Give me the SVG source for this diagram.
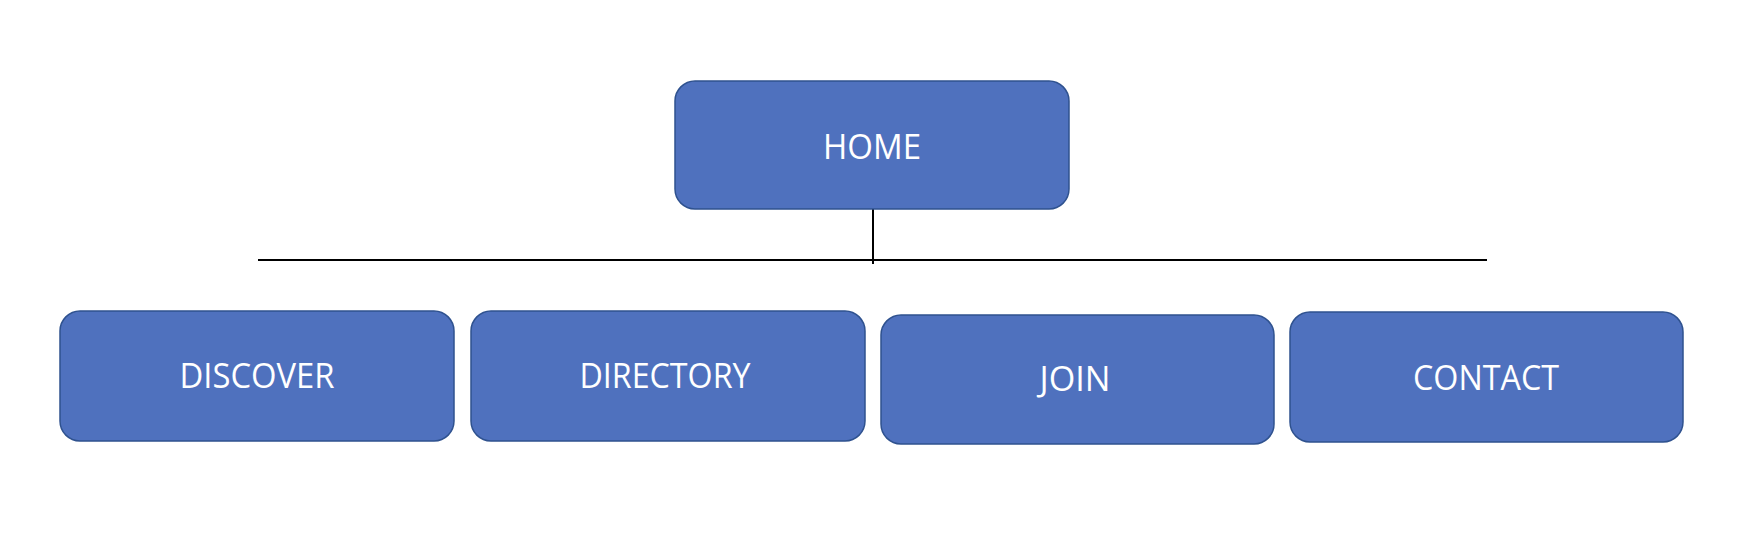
<svg xmlns="http://www.w3.org/2000/svg" width="1750" height="542" viewBox="0 0 1750 542">
<style>
.box{fill:#4F71BE;stroke:#2F528F;stroke-width:1.5}
.lbl{fill:#FFFFFF;font-family:"Open Sans","Noto Sans",sans-serif;font-size:35px;text-anchor:middle}
.conn{stroke:#000000;stroke-width:2;fill:none}
</style>
<rect width="1750" height="542" fill="#FFFFFF"/>
<g id="connectors">
<line class="conn" x1="873" y1="209" x2="873" y2="264"/>
<line class="conn" x1="258" y1="260" x2="1487" y2="260"/>
</g>
<g id="home">
<rect class="box" x="675" y="81" width="394" height="128" rx="20" ry="20"/>
<text class="lbl" x="872" y="159" textLength="98" lengthAdjust="spacingAndGlyphs">HOME</text>
</g>
<g id="discover">
<rect class="box" x="60" y="311" width="394" height="130" rx="20" ry="20"/>
<text class="lbl" x="257" y="388" textLength="155" lengthAdjust="spacingAndGlyphs">DISCOVER</text>
</g>
<g id="directory">
<rect class="box" x="471" y="311" width="394" height="130" rx="20" ry="20"/>
<text class="lbl" x="665" y="388" textLength="171" lengthAdjust="spacingAndGlyphs">DIRECTORY</text>
</g>
<g id="join">
<rect class="box" x="881" y="315" width="393" height="129" rx="20" ry="20"/>
<text class="lbl" x="1075" y="391" textLength="71" lengthAdjust="spacingAndGlyphs">JOIN</text>
</g>
<g id="contact">
<rect class="box" x="1290" y="312" width="393" height="130" rx="20" ry="20"/>
<text class="lbl" x="1486" y="390" textLength="146" lengthAdjust="spacingAndGlyphs">CONTACT</text>
</g>
</svg>
